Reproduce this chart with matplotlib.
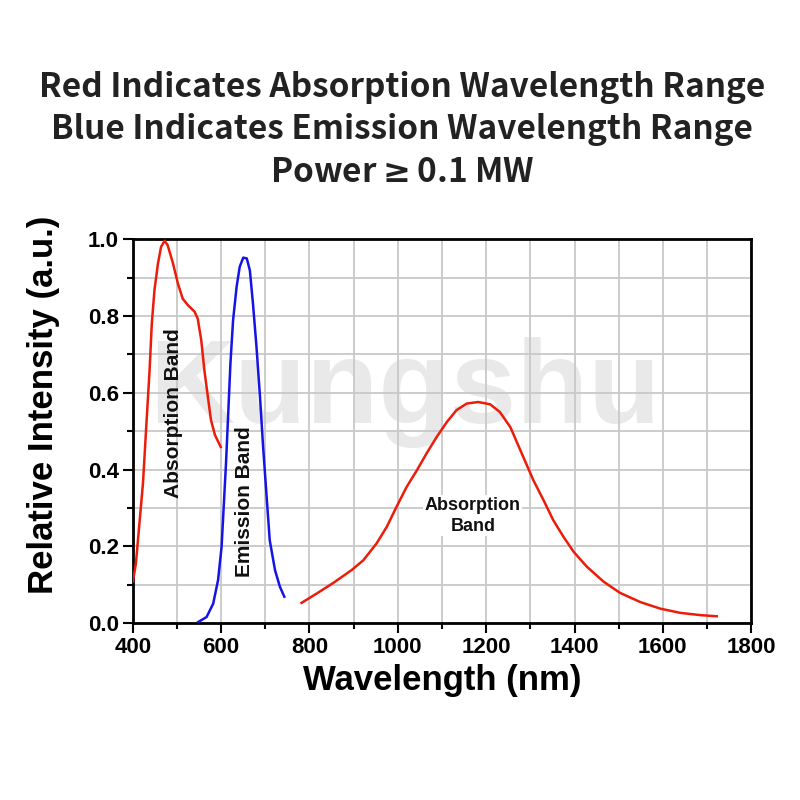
import matplotlib.pyplot as plt
from matplotlib.ticker import MultipleLocator
import numpy as np

plt.rcParams['font.family'] = ['Liberation Sans', 'DejaVu Sans']

# visible absorption band (red, left)
abs1_x = [400, 407, 415, 423, 430, 438, 443, 449, 457, 464, 472, 479, 491, 502, 513,
          525, 540, 547, 555, 562, 570, 577, 586, 599]
abs1_y = [0.108, 0.155, 0.26, 0.364, 0.503, 0.659, 0.78, 0.867, 0.937, 0.98, 0.996,
          0.984, 0.937, 0.885, 0.845, 0.828, 0.811, 0.793, 0.737, 0.659, 0.589, 0.529,
          0.49, 0.459]

# emission band (blue)
emis_x = [548, 567, 582, 593, 601, 605, 611, 616, 621, 627, 635, 642, 650, 658, 665,
          672, 680, 688, 695, 703, 710, 722, 733, 743]
emis_y = [0.003, 0.016, 0.051, 0.112, 0.199, 0.286, 0.416, 0.546, 0.676, 0.789, 0.876,
          0.928, 0.952, 0.95, 0.919, 0.833, 0.72, 0.589, 0.459, 0.329, 0.216, 0.138,
          0.095, 0.069]

# near-infrared absorption band (red, right)
abs2_x = [782, 816, 854, 895, 922, 952, 975, 997, 1020, 1043, 1065, 1088, 1111, 1133,
          1156, 1182, 1209, 1231, 1255, 1284, 1307, 1330, 1352, 1375, 1398, 1428, 1466,
          1503, 1549, 1594, 1639, 1685, 1722]
abs2_y = [0.053, 0.077, 0.105, 0.138, 0.164, 0.208, 0.251, 0.303, 0.355, 0.398, 0.442,
          0.485, 0.524, 0.555, 0.572, 0.576, 0.57, 0.55, 0.51, 0.433, 0.372, 0.32, 0.268,
          0.225, 0.186, 0.147, 0.108, 0.079, 0.055, 0.038, 0.027, 0.021, 0.018]

# the \geq is set through mathtext so it gets the plain (not slanted CJK) glyph;
# mathtext already pads a relation symbol, hence no spaces around it
title_lines = ["Red Indicates Absorption Wavelength Range",
               "Blue Indicates Emission Wavelength Range",
               r"Power$\mathbf{\geq}$0.1 MW"]

red = '#ec1c0a'
blue = '#1414e6'

fig = plt.figure(figsize=(8, 8), dpi=100)
ax = fig.add_axes([0.166, 0.221, 0.773, 0.48])

# watermark
ax.text(0.44, 0.60, "Kungshu", transform=ax.transAxes, ha='center', va='center',
        fontsize=85, fontweight='bold', color='#e2e2e2', alpha=0.75, zorder=0)

ax.plot(abs1_x, abs1_y, color=red, lw=1.8, zorder=3, solid_joinstyle='round')
ax.plot(emis_x, emis_y, color=blue, lw=1.8, zorder=3, solid_joinstyle='round')
ax.plot(abs2_x, abs2_y, color=red, lw=1.8, zorder=3, solid_joinstyle='round')

ax.text(493, 0.548, "Absorption Band", rotation=90, ha='center', va='center', fontsize=15,
        fontweight='bold', color='#111111', zorder=4)
ax.text(654, 0.316, "Emission Band", rotation=90, ha='center', va='center', fontsize=15,
        fontweight='bold', color='#111111', zorder=4)
ax.text(1170, 0.28, "Absorption\nBand", ha='center', va='center', fontsize=13,
        fontweight='bold', color='#111111', linespacing=1.3, zorder=4,
        bbox=dict(facecolor='white', edgecolor='none', pad=1))

ax.set_xlim(400, 1800)
ax.set_ylim(0, 1.0)
ax.xaxis.set_major_locator(MultipleLocator(200))
ax.xaxis.set_minor_locator(MultipleLocator(100))
ax.yaxis.set_minor_locator(MultipleLocator(0.1))
ax.set_yticks(np.arange(0, 1.01, 0.2))
ax.set_yticklabels(['%.1f' % v for v in np.arange(0, 1.01, 0.2)])
ax.grid(which='both', color='#c8c8c8', lw=1.3, zorder=1)
ax.set_axisbelow(True)

ax.tick_params(which='major', direction='out', length=7, width=1.5, labelsize=16, pad=3)
ax.tick_params(which='minor', direction='out', length=4, width=1.5)
for lab in ax.get_xticklabels() + ax.get_yticklabels():
    lab.set_fontweight('bold')
for sp in ax.spines.values():
    sp.set_linewidth(2)

ax.set_xlabel("Wavelength (nm)", fontsize=25, fontweight='bold', labelpad=4)
ax.set_ylabel("Relative Intensity (a.u.)", fontsize=25, fontweight='bold')
ax.yaxis.set_label_coords(-0.118, 0.57)

for i, line in enumerate(title_lines):
    fig.text(0.503, 1 - (88 + 42 * i) / 800, line, ha='center', va='center',
             fontsize=24, fontweight='bold', color='#222222',
             family=['Noto Sans CJK SC', 'DejaVu Sans'])

fig.savefig('out.png', dpi=100)
